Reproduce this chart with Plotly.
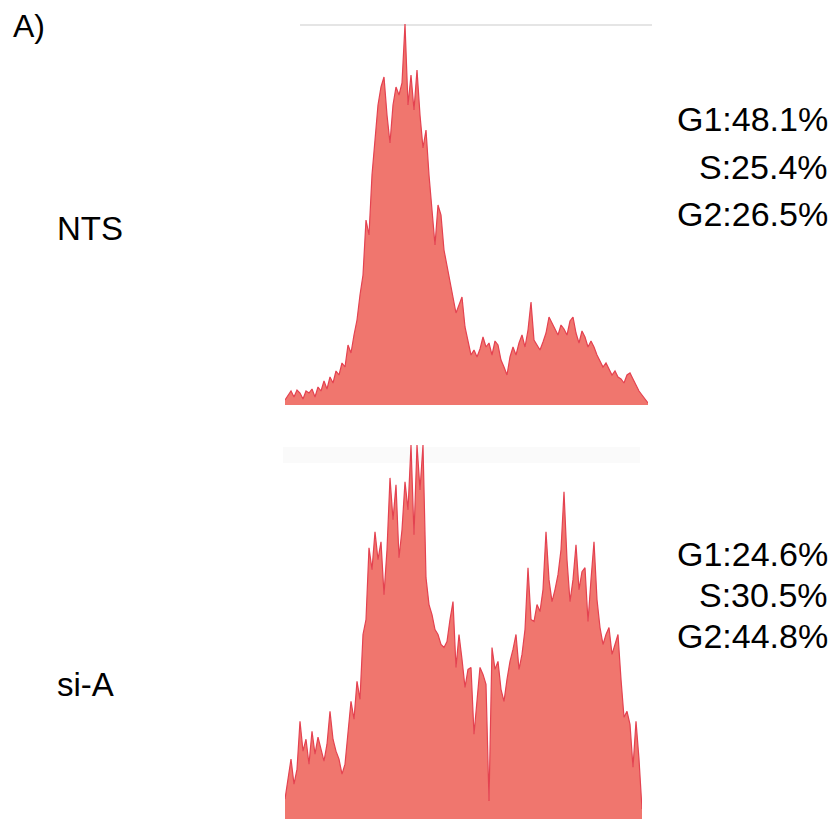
import plotly.graph_objects as go

W, H = 835, 822

# Top panel (NTS) histogram counts per channel bin
nts_counts = [5, 10, 14, 8, 15, 12, 6, 14, 12, 16, 8, 18, 14, 24, 16, 28, 22, 34, 30, 42,
              38, 60, 52, 70, 85, 110, 130, 185, 170, 230, 262, 300, 318, 328, 290, 262, 300, 318, 310, 322,
              381, 300, 330, 295, 335, 290, 257, 275, 230, 190, 160, 200, 190, 155, 140, 125, 110, 92, 100, 108,
              78, 62, 50, 55, 48, 56, 68, 58, 62, 50, 64, 60, 45, 38, 30, 48, 58, 50, 62, 70,
              58, 75, 103, 65, 60, 55, 63, 72, 88, 82, 75, 70, 80, 76, 70, 84, 88, 72, 62, 74,
              68, 58, 64, 58, 50, 44, 38, 42, 36, 30, 34, 28, 26, 22, 30, 32, 26, 20, 14, 10,
              6, 2]

# Bottom panel (si-A) histogram counts per channel bin
sia_counts = [20, 40, 60, 35, 50, 98, 68, 80, 55, 88, 65, 82, 70, 58, 75, 108, 80, 68, 60, 45,
              55, 90, 118, 100, 138, 120, 185, 200, 272, 250, 288, 260, 278, 225, 270, 342, 300, 335, 262, 290,
              338, 310, 375, 285, 375, 330, 375, 242, 215, 205, 190, 185, 175, 172, 178, 200, 218, 152, 185, 160,
              132, 150, 152, 85, 120, 152, 145, 135, 18, 172, 150, 158, 130, 118, 140, 158, 170, 185, 150, 165,
              190, 252, 200, 198, 215, 208, 230, 288, 240, 218, 230, 245, 270, 328, 260, 218, 240, 275, 230, 248,
              252, 198, 240, 278, 220, 192, 175, 185, 192, 165, 175, 185, 140, 102, 108, 95, 52, 98, 60, 10]

labels = ["NTS", "si-A"]
nts_stats = ["G1:48.1%", "S:25.4%", "G2:26.5%"]
sia_stats = ["G1:24.6%", "S:30.5%", "G2:44.8%"]

FILL = "rgb(240,118,110)"
EDGE = "rgb(228,66,80)"
FONT = "Liberation Sans, Arial, sans-serif"

def px(x):
    return x / W

def py(y):
    return 1 - y / H

fig = go.Figure()
fig.add_trace(go.Scatter(x=list(range(len(nts_counts))), y=nts_counts, mode="lines",
                         line=dict(color=EDGE, width=1.2), fill="tozeroy", fillcolor=FILL,
                         xaxis="x", yaxis="y", showlegend=False, hoverinfo="skip"))
fig.add_trace(go.Scatter(x=list(range(len(sia_counts))), y=sia_counts, mode="lines",
                         line=dict(color=EDGE, width=1.2), fill="tozeroy", fillcolor=FILL,
                         xaxis="x2", yaxis="y2", showlegend=False, hoverinfo="skip"))

ax = dict(visible=False, showgrid=False, zeroline=False, fixedrange=True)
fig.update_layout(
    width=W, height=H, margin=dict(l=0, r=0, t=0, b=0),
    paper_bgcolor="white", plot_bgcolor="rgba(0,0,0,0)",
    xaxis=dict(ax, domain=[px(285), px(648)], range=[0, len(nts_counts) - 1]),
    yaxis=dict(ax, domain=[py(405), py(24)], range=[0, max(nts_counts)]),
    xaxis2=dict(ax, domain=[px(285), px(642)], range=[0, len(sia_counts) - 1], anchor="y2"),
    yaxis2=dict(ax, domain=[py(819), py(445)], range=[0, max(sia_counts)], anchor="x2"),
)

# faint scan artefacts at the top of each histogram frame
fig.add_shape(type="line", xref="paper", yref="paper", x0=px(300), x1=px(652), y0=py(25), y1=py(25),
              line=dict(color="rgba(170,170,170,0.3)", width=2), layer="below")
fig.add_shape(type="rect", xref="paper", yref="paper", x0=px(283), x1=px(640), y0=py(463), y1=py(447),
              line=dict(width=0), fillcolor="rgba(0,0,0,0.02)", layer="below")

ann = []
ann.append(dict(text="A)", x=px(11), y=py(26), xanchor="left", yanchor="middle", font=dict(size=32)))
ann.append(dict(text=labels[0], x=px(55), y=py(228), xanchor="left", yanchor="middle", font=dict(size=33)))
ann.append(dict(text=labels[1], x=px(55), y=py(684), xanchor="left", yanchor="middle", font=dict(size=33)))
for i, t in enumerate(nts_stats):
    ann.append(dict(text=t, x=px(830), y=py(119 + 47.5 * i), xanchor="right", yanchor="middle", font=dict(size=34)))
for i, t in enumerate(sia_stats):
    ann.append(dict(text=t, x=px(830), y=py(554 + 41 * i), xanchor="right", yanchor="middle", font=dict(size=34)))
for a in ann:
    a.update(xref="paper", yref="paper", showarrow=False)
    a["font"].update(family=FONT, color="black")
fig.update_layout(annotations=ann)

fig.write_html("out.html")
